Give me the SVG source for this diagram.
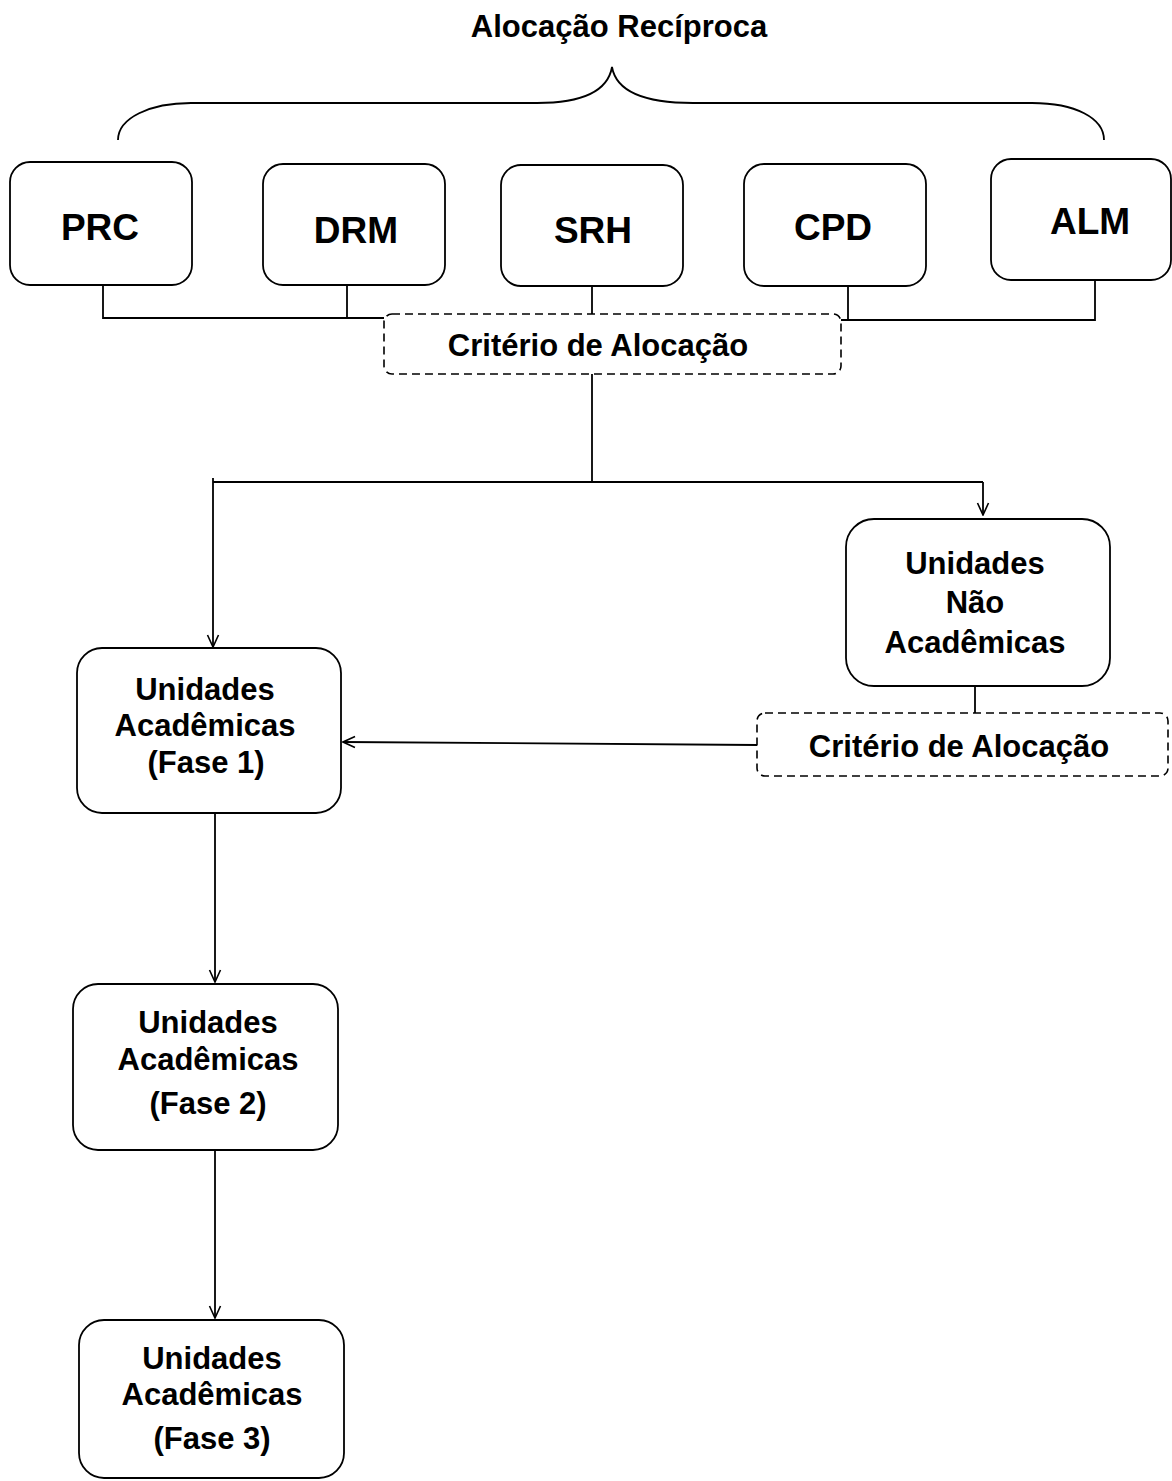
<svg xmlns="http://www.w3.org/2000/svg" width="1172" height="1481" viewBox="0 0 1172 1481">
<style>
.box{fill:#fff;stroke:#000;stroke-width:1.8}
.dash{fill:#fff;stroke:#000;stroke-width:1.6;stroke-dasharray:8 5}
.ln{fill:none;stroke:#000;stroke-width:1.8}
.t{font-family:"Liberation Sans",Arial,sans-serif;font-weight:bold;fill:#000;text-anchor:middle}
.big{font-size:37px}
.mid{font-size:31px}
</style>
<defs>
<marker id="arr" viewBox="0 0 14 14" refX="13" refY="7" markerWidth="14" markerHeight="14" markerUnits="userSpaceOnUse" orient="auto">
<path d="M1,1.5 L13,7 L1,12.5" fill="none" stroke="#000" stroke-width="1.6"/>
</marker>
</defs>
<rect width="1172" height="1481" fill="#fff"/>
<text class="t mid" x="619" y="37">Alocação Recíproca</text>
<path class="ln" d="M118,140 C118,118 150,103 191,103 L537,103 C585,103 608,90 612,67 C616,90 640,103 693,103 L1032,103 C1075,103 1104,118 1104,140"/>
<g id="connectors">
<path class="ln" d="M103,285 V318 H384"/>
<path class="ln" d="M347,285 V318"/>
<path class="ln" d="M592,286 V316"/>
<path class="ln" d="M841,320 H1095 V280"/>
<path class="ln" d="M848,286 V320"/>
<path class="ln" d="M592,374 V482"/>
<path class="ln" d="M213,482 H983"/>
<path class="ln" d="M213,478 V647" marker-end="url(#arr)"/>
<path class="ln" d="M983,482 V515" marker-end="url(#arr)"/>
<path class="ln" d="M975,686 V713"/>
<path class="ln" d="M757,745 L343,742" marker-end="url(#arr)"/>
<path class="ln" d="M215,813 V982" marker-end="url(#arr)"/>
<path class="ln" d="M215,1150 V1318" marker-end="url(#arr)"/>
</g>
<g id="prc"><rect class="box" x="10" y="162" width="182" height="123" rx="20"/><text class="t big" x="100" y="240">PRC</text></g>
<g id="drm"><rect class="box" x="263" y="164" width="182" height="121" rx="20"/><text class="t big" x="356" y="243">DRM</text></g>
<g id="srh"><rect class="box" x="501" y="165" width="182" height="121" rx="20"/><text class="t big" x="593" y="243">SRH</text></g>
<g id="cpd"><rect class="box" x="744" y="164" width="182" height="122" rx="20"/><text class="t big" x="833" y="240">CPD</text></g>
<g id="alm"><rect class="box" x="991" y="159" width="180" height="121" rx="20"/><text class="t big" x="1090" y="234">ALM</text></g>
<g id="criterio1"><rect class="dash" x="384" y="314" width="457" height="60" rx="8"/><text class="t mid" x="598" y="356">Critério de Alocação</text></g>
<g id="naoacad"><rect class="box" x="846" y="519" width="264" height="167" rx="28"/>
<text class="t mid" x="975" y="574">Unidades</text><text class="t mid" x="975" y="613">Não</text><text class="t mid" x="975" y="653">Acadêmicas</text></g>
<g id="criterio2"><rect class="dash" x="757" y="713" width="411" height="63" rx="8"/><text class="t mid" x="959" y="757">Critério de Alocação</text></g>
<g id="fase1"><rect class="box" x="77" y="648" width="264" height="165" rx="25"/>
<text class="t mid" x="205" y="700">Unidades</text><text class="t mid" x="205" y="736">Acadêmicas</text><text class="t mid" x="206" y="773">(Fase 1)</text></g>
<g id="fase2"><rect class="box" x="73" y="984" width="265" height="166" rx="25"/>
<text class="t mid" x="208" y="1033">Unidades</text><text class="t mid" x="208" y="1070">Acadêmicas</text><text class="t mid" x="208" y="1114">(Fase 2)</text></g>
<g id="fase3"><rect class="box" x="79" y="1320" width="265" height="158" rx="25"/>
<text class="t mid" x="212" y="1369">Unidades</text><text class="t mid" x="212" y="1405">Acadêmicas</text><text class="t mid" x="212" y="1449">(Fase 3)</text></g>
</svg>
